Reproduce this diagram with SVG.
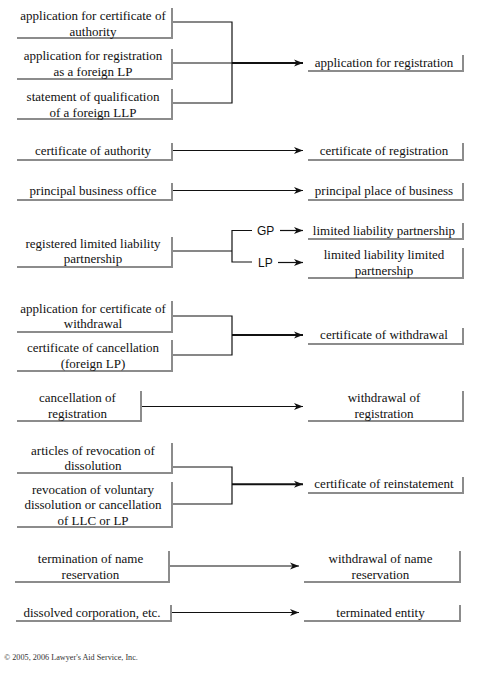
<svg xmlns="http://www.w3.org/2000/svg" width="485" height="676" viewBox="0 0 485 676">
<defs>
<filter id="blur" x="-5%" y="-20%" width="110%" height="140%"><feGaussianBlur stdDeviation="0.7"/></filter>
<marker id="ah" markerUnits="userSpaceOnUse" markerWidth="10" markerHeight="8" refX="9" refY="4" orient="auto"><path d="M0,0.5 L9,4 L0,7.5 L2.5,4 Z" fill="#111"/></marker>
<style>
.sh{fill:#8c8c8c;filter:url(#blur)}
.bx{fill:#fff}
text{font-family:"Liberation Serif","Times New Roman",serif;font-size:13px;fill:#111;text-anchor:middle}
.lbl{font-family:"Liberation Sans",Arial,sans-serif;font-size:12px;text-anchor:start}
.cp{font-size:8.2px;fill:#333;text-anchor:start}
.ln{fill:none;stroke:#111;stroke-width:1.2}
.ar{fill:none;stroke:#111;stroke-width:1.2;marker-end:url(#ah)}
.ar2{fill:none;stroke:#111;stroke-width:2;marker-end:url(#ah)}
</style>
</defs>
<rect width="485" height="676" fill="#fff"/>

<g id="connectors">
<path class="ln" d="M171,22 H232 V103 H171"/>
<path class="ln" d="M171,63 H232"/>
<path class="ar2" d="M232,63 H303"/>
<path class="ar" d="M171,150.5 H303"/>
<path class="ar" d="M171,190.5 H303"/>
<path class="ln" d="M171,251 H232"/>
<path class="ln" d="M252,230.5 H232 V262 H252"/>
<path class="ar" d="M280,230.5 H303"/>
<path class="ar" d="M278,262.5 H303"/>
<text class="lbl" x="257" y="234.5">GP</text>
<text class="lbl" x="258" y="266.5">LP</text>
<path class="ln" d="M171,316 H232 V355 H171"/>
<path class="ar2" d="M232,335 H303"/>
<path class="ar" d="M140,406.5 H303"/>
<path class="ln" d="M171,467 H232 V504 H171"/>
<path class="ar2" d="M232,484.3 H303"/>
<path class="ar" d="M168,566 H299"/>
<path class="ar" d="M170,612.5 H299"/>
</g>

<g id="n-app-cert-authority"><rect class="sh" x="17" y="8" width="156" height="31"/><rect class="bx" x="15" y="6" width="156" height="31"/><text x="93" y="20">application for certificate of</text><text x="93" y="35.5">authority</text></g>
<g id="n-app-reg-foreign-lp"><rect class="sh" x="17" y="49" width="156" height="31"/><rect class="bx" x="15" y="47" width="156" height="31"/><text x="93" y="60">application for registration</text><text x="93" y="75.5">as a foreign LP</text></g>
<g id="n-stmt-qual-llp"><rect class="sh" x="17" y="89" width="156" height="31"/><rect class="bx" x="15" y="87" width="156" height="31"/><text x="93" y="101">statement of qualification</text><text x="93" y="116.5">of a foreign LLP</text></g>
<g id="n-app-reg"><rect class="sh" x="308" y="55" width="156" height="17"/><rect class="bx" x="306" y="53" width="156" height="17"/><text x="384" y="66.5">application for registration</text></g>

<g id="n-cert-authority"><rect class="sh" x="17" y="143" width="156" height="18"/><rect class="bx" x="15" y="141" width="156" height="18"/><text x="93" y="154.5">certificate of authority</text></g>
<g id="n-cert-reg"><rect class="sh" x="308" y="143" width="156" height="18"/><rect class="bx" x="306" y="141" width="156" height="18"/><text x="384" y="154.5">certificate of registration</text></g>

<g id="n-pbo"><rect class="sh" x="17" y="183" width="156" height="18"/><rect class="bx" x="15" y="181" width="156" height="18"/><text x="93" y="194.5">principal business office</text></g>
<g id="n-ppb"><rect class="sh" x="308" y="183" width="156" height="18"/><rect class="bx" x="306" y="181" width="156" height="18"/><text x="384" y="194.5">principal place of business</text></g>

<g id="n-rllp"><rect class="sh" x="17" y="237" width="156" height="31"/><rect class="bx" x="15" y="235" width="156" height="31"/><text x="93" y="247.5">registered limited liability</text><text x="93" y="263">partnership</text></g>
<g id="n-llp"><rect class="sh" x="308" y="223" width="156" height="17"/><rect class="bx" x="306" y="221" width="156" height="17"/><text x="384" y="234.5">limited liability partnership</text></g>
<g id="n-lllp"><rect class="sh" x="308" y="248" width="156" height="31"/><rect class="bx" x="306" y="246" width="156" height="31"/><text x="384" y="259">limited liability limited</text><text x="384" y="274.5">partnership</text></g>

<g id="n-app-cert-withdrawal"><rect class="sh" x="17" y="301" width="156" height="32"/><rect class="bx" x="15" y="299" width="156" height="32"/><text x="93" y="312.5">application for certificate of</text><text x="93" y="328">withdrawal</text></g>
<g id="n-cert-cancel"><rect class="sh" x="17" y="340" width="156" height="32"/><rect class="bx" x="15" y="338" width="156" height="32"/><text x="93" y="352">certificate of cancellation</text><text x="93" y="367.5">(foreign LP)</text></g>
<g id="n-cert-withdrawal"><rect class="sh" x="308" y="328" width="156" height="17"/><rect class="bx" x="306" y="326" width="156" height="17"/><text x="384" y="339">certificate of withdrawal</text></g>

<g id="n-cancel-reg"><rect class="sh" x="17" y="391" width="125" height="31"/><rect class="bx" x="15" y="389" width="125" height="31"/><text x="77.5" y="402">cancellation of</text><text x="77.5" y="417.5">registration</text></g>
<g id="n-withdraw-reg"><rect class="sh" x="308" y="391" width="156" height="31"/><rect class="bx" x="306" y="389" width="156" height="31"/><text x="384" y="402">withdrawal of</text><text x="384" y="417.5">registration</text></g>

<g id="n-art-revoc"><rect class="sh" x="17" y="443" width="156" height="31"/><rect class="bx" x="15" y="441" width="156" height="31"/><text x="93" y="454.5">articles of revocation of</text><text x="93" y="470">dissolution</text></g>
<g id="n-revoc-vol"><rect class="sh" x="17" y="482" width="156" height="46"/><rect class="bx" x="15" y="480" width="156" height="46"/><text x="93" y="493.5">revocation of voluntary</text><text x="93" y="509">dissolution or cancellation</text><text x="93" y="524.5">of LLC or LP</text></g>
<g id="n-cert-reinst"><rect class="sh" x="308" y="477" width="156" height="17"/><rect class="bx" x="306" y="475" width="156" height="17"/><text x="384" y="488">certificate of reinstatement</text></g>

<g id="n-term-name"><rect class="sh" x="15" y="551" width="155" height="32"/><rect class="bx" x="13" y="549" width="155" height="32"/><text x="90.5" y="562.5">termination of name</text><text x="90.5" y="578.5">reservation</text></g>
<g id="n-withdraw-name"><rect class="sh" x="304" y="551" width="157" height="32"/><rect class="bx" x="302" y="549" width="157" height="32"/><text x="380.5" y="563">withdrawal of name</text><text x="380.5" y="579">reservation</text></g>

<g id="n-dissolved"><rect class="sh" x="16" y="605" width="156" height="17"/><rect class="bx" x="14" y="603" width="156" height="17"/><text x="92" y="616.5">dissolved corporation, etc.</text></g>
<g id="n-terminated"><rect class="sh" x="304" y="605" width="157" height="17"/><rect class="bx" x="302" y="603" width="157" height="17"/><text x="380.5" y="616.5">terminated entity</text></g>

<text class="cp" x="4" y="659.5">© 2005, 2006 Lawyer's Aid Service, Inc.</text>
</svg>
